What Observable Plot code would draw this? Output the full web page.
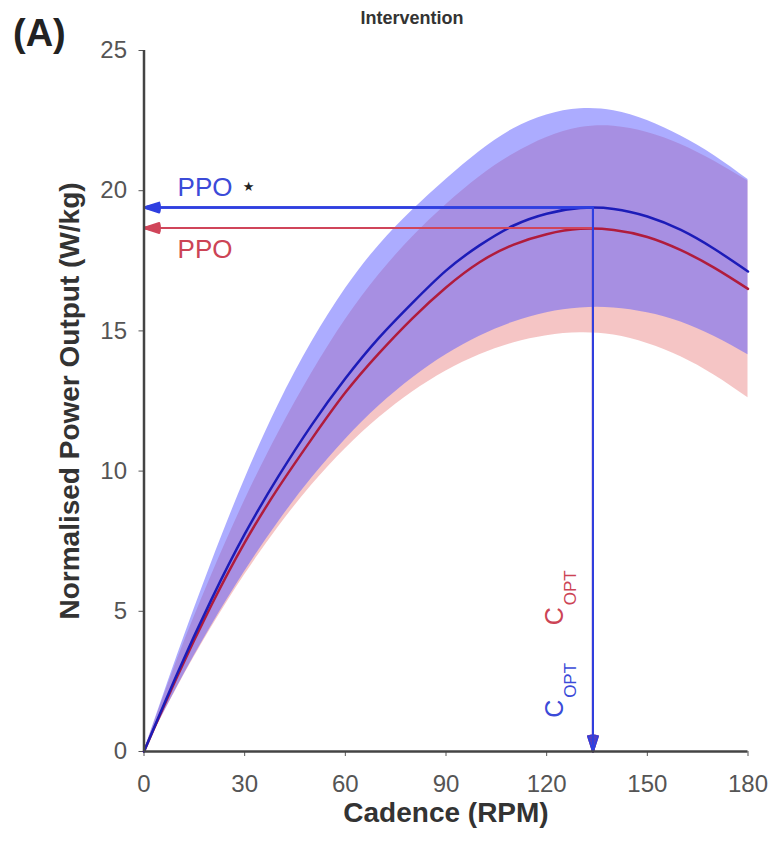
<!DOCTYPE html>
<html><head><meta charset="utf-8">
<script src="https://cdn.jsdelivr.net/npm/d3@7"></script>
<script src="https://cdn.jsdelivr.net/npm/@observablehq/plot@0.6"></script>
<style>body{margin:0;background:#fff}#chart{width:774px;height:848px}</style>
</head><body><div id="chart"></div>
<script>
// Cadence (RPM) sample points
const cadence   = [0,10,20,30,40,50,60,70,80,90,100,110,120,130,140,150,160,170,180];
// Blue group: mean curve and band
const blueMean  = [0,2.8,5.4,7.75,9.8,11.65,13.3,14.75,16.0,17.15,18.05,18.75,19.18,19.38,19.35,19.08,18.6,17.92,17.12];
const blueUpper = [0,3.45,6.7,9.7,12.35,14.6,16.5,18.05,19.3,20.4,21.4,22.2,22.7,22.92,22.85,22.5,21.95,21.25,20.4];
const blueLower = [0,2.33,4.47,6.42,8.18,9.75,11.13,12.32,13.32,14.15,14.81,15.31,15.65,15.82,15.82,15.65,15.32,14.8,14.15];
// Red group: mean curve and band
const redMean   = [0,2.7,5.2,7.45,9.4,11.15,12.8,14.2,15.45,16.55,17.45,18.07,18.45,18.64,18.6,18.35,17.88,17.25,16.5];
const redUpper  = [0,3.3,6.25,8.95,11.35,13.5,15.4,17.0,18.35,19.5,20.5,21.3,21.9,22.25,22.3,22.08,21.65,21.05,20.35];
const redLower  = [0,2.3,4.4,6.3,8.0,9.5,10.8,11.9,12.82,13.57,14.15,14.57,14.83,14.93,14.85,14.55,14.08,13.42,12.62];
// Peak power output and optimal cadence
const ppoBlue = 19.4, ppoRed = 18.67, coptBlue = 133.8, coptRed = 133.8;
const xTicks = [0,30,60,90,120,150,180];
const yTicks = [0,5,10,15,20,25];
// Annotation labels
const ppoLabels = [
  {t: "PPO", x: 10.0, y: 20.1, c: "#3b4bd8"},
  {t: "PPO", x: 10.0, y: 17.9, c: "#cc4455"}
];
const starLabel = [{t: "\u2605", x: 31.2, y: 20.15}];
const coptLabels = [
  {x: 122.6, y: 1.2, c: "#3b4bd8"},
  {x: 122.6, y: 4.5, c: "#cc4455"}
];

const rows = cadence.map((c, i) => ({c, bm: blueMean[i], bu: blueUpper[i], bl: blueLower[i],
  rm: redMean[i], ru: redUpper[i], rl: redLower[i]}));
const arrows = [
  {x1: coptRed, y1: ppoRed, x2: 0, y2: ppoRed, c: "#d0455a"},
  {x1: coptRed, y1: ppoRed, x2: coptRed, y2: 0, c: "#d0455a"},
  {x1: coptBlue, y1: ppoBlue, x2: 0, y2: ppoBlue, c: "#2f3fe0"},
  {x1: coptBlue, y1: ppoBlue, x2: coptBlue, y2: 0, c: "#2f3fe0"}
];
const fam = "'Liberation Sans', Arial, Helvetica, sans-serif";
const arrowMarks = [12, 20, 28, 36].map(a =>
  Plot.arrow(arrows, {x1: "x1", y1: "y1", x2: "x2", y2: "y2", stroke: "c", strokeWidth: 2, headLength: 12, headAngle: a}));

const plot = Plot.plot({
  width: 774, height: 848,
  marginLeft: 143.5, marginRight: 26.5, marginTop: 50, marginBottom: 97,
  style: {fontFamily: fam, fontSize: "24px", color: "#555", background: "#fff", overflow: "visible"},
  x: {domain: [0, 180], ticks: xTicks, tickSize: 5, tickPadding: 18, label: null},
  y: {domain: [0, 25], ticks: yTicks, tickSize: 5, tickPadding: 12, label: null},
  marks: [
    Plot.areaY(rows, {x: "c", y1: "rl", y2: "ru", fill: "#ec8c8c", fillOpacity: 0.5, curve: "natural"}),
    Plot.areaY(rows, {x: "c", y1: "bl", y2: "bu", fill: "#5a5aff", fillOpacity: 0.5, curve: "natural"}),
    Plot.line(rows, {x: "c", y: "rm", stroke: "#b01c3c", strokeWidth: 2.5, curve: "natural"}),
    Plot.line(rows, {x: "c", y: "bm", stroke: "#1c1cb8", strokeWidth: 2.5, curve: "natural"}),
    ...arrowMarks,
    Plot.ruleX([0], {stroke: "#444", strokeWidth: 2.5}),
    Plot.ruleY([0], {stroke: "#444", strokeWidth: 2.5}),
    Plot.text(ppoLabels, {x: "x", y: "y", text: "t", fill: "c", textAnchor: "start", fontSize: 26}),
    Plot.text(starLabel, {x: "x", y: "y", text: "t", fill: "#222", fontSize: 13, fontFamily: "DejaVu Sans"}),
    Plot.text(coptLabels, {x: "x", y: "y", text: () => "C", fill: "c", rotate: -90, textAnchor: "start", fontSize: 25}),
    Plot.text(coptLabels, {x: "x", y: "y", text: () => "OPT", fill: "c", rotate: -90, textAnchor: "start", fontSize: 17, dx: 15, dy: -20}),
    Plot.text(["Intervention"], {text: d => d, frameAnchor: "top", lineAnchor: "middle", dx: -34, dy: -32, fontWeight: "bold", fontSize: 18, fill: "#333"}),
    Plot.text(["(A)"], {text: d => d, frameAnchor: "top-left", textAnchor: "start", lineAnchor: "middle", dx: -131, dy: -17, fontWeight: "bold", fontSize: 38, fill: "#222"}),
    Plot.text(["Normalised Power Output (W/kg)"], {text: d => d, frameAnchor: "left", textAnchor: "middle", lineAnchor: "middle", rotate: -90, dx: -74, fontWeight: "bold", fontSize: 28, fill: "#333"}),
    Plot.text(["Cadence (RPM)"], {text: d => d, frameAnchor: "bottom", textAnchor: "middle", lineAnchor: "middle", dy: 62, fontWeight: "bold", fontSize: 28, fill: "#333"})
  ]
});
document.getElementById("chart").appendChild(plot);
</script>
</body></html>
